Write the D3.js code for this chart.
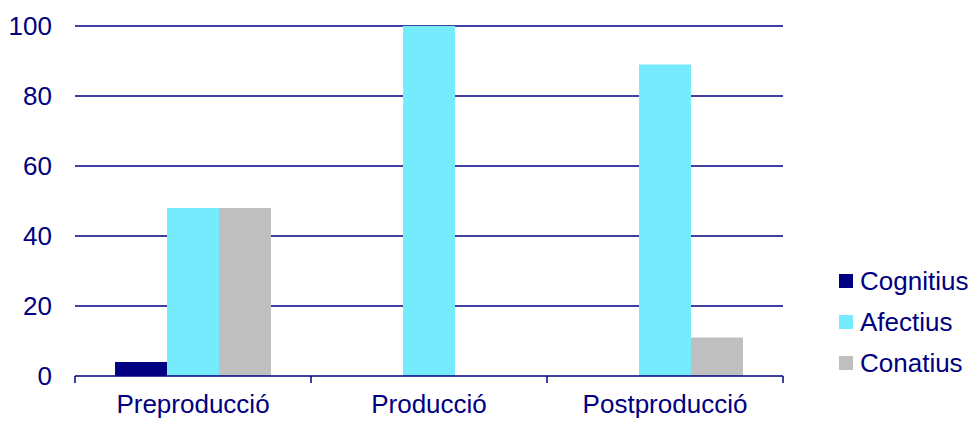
<!DOCTYPE html>
<html>
<head>
<meta charset="utf-8">
<script src="https://cdn.jsdelivr.net/npm/d3@7"></script>
<style>
  body { margin: 0; background: #fff; }
  svg { font-family: "Liberation Sans", Arial, sans-serif; }
</style>
</head>
<body>
<svg id="chart" width="973" height="422"></svg>
<script>
// Chart data
const categories = ['Preproducció', 'Producció', 'Postproducció'];
const seriesNames = ['Cognitius', 'Afectius', 'Conatius'];
const cognitius = [4, 0, 0];
const afectius = [48, 100, 89];
const conatius = [48, 0, 11];
const yTicks = [0, 20, 40, 60, 80, 100];

const seriesValues = [cognitius, afectius, conatius];
const colors = ['#000080', '#76ebfe', '#bfbfbf'];
const navy = '#000080';

const svg = d3.select('#chart');
const margin = { top: 26, right: 190, bottom: 46, left: 75 };
const width = 973 - margin.left - margin.right;
const height = 422 - margin.top - margin.bottom;

const g = svg.append('g')
  .attr('transform', `translate(${margin.left},${margin.top})`);

const x = d3.scaleBand().domain(categories).range([0, width]);
const xInner = d3.scaleBand().domain(seriesNames)
  .range([0, x.bandwidth()]).paddingOuter(0.77).paddingInner(0);
const y = d3.scaleLinear().domain([0, 100]).range([height, 0]);

// Gridlines
g.selectAll('.grid')
  .data(yTicks.filter(d => d > 0))
  .enter().append('line')
  .attr('x1', 0).attr('x2', width)
  .attr('y1', d => y(d)).attr('y2', d => y(d))
  .attr('stroke', navy).attr('stroke-width', 1.5);

// Bars
seriesNames.forEach((name, si) => {
  g.selectAll('.bar-' + si)
    .data(categories.map((c, i) => ({ c, v: seriesValues[si][i] })).filter(d => d.v > 0))
    .enter().append('rect')
    .attr('x', d => x(d.c) + xInner(name))
    .attr('width', xInner.bandwidth())
    .attr('y', d => y(d.v))
    .attr('height', d => height - y(d.v))
    .attr('fill', colors[si]);
});

// X axis
const xAxis = g.append('g')
  .attr('transform', `translate(0,${height})`);
xAxis.append('line')
  .attr('x1', 0).attr('x2', width)
  .attr('stroke', navy).attr('stroke-width', 1.5);
const tickPos = d3.range(categories.length + 1).map(i => i * x.step());
xAxis.selectAll('.xtick')
  .data(tickPos).enter().append('line')
  .attr('x1', d => d).attr('x2', d => d)
  .attr('y1', 0).attr('y2', 7)
  .attr('stroke', navy).attr('stroke-width', 1.5);
xAxis.selectAll('.xlabel')
  .data(categories).enter().append('text')
  .attr('x', d => x(d) + x.bandwidth() / 2)
  .attr('y', 37)
  .attr('text-anchor', 'middle')
  .attr('fill', navy)
  .style('font-size', '26px')
  .text(d => d);

// Y labels
g.selectAll('.ylabel')
  .data(yTicks).enter().append('text')
  .attr('x', -23)
  .attr('y', d => y(d))
  .attr('dy', '0.35em')
  .attr('text-anchor', 'end')
  .attr('fill', navy)
  .style('font-size', '26px')
  .text(d => d);

// Legend
const legend = svg.append('g').attr('transform', 'translate(839,274)');
seriesNames.forEach((name, i) => {
  const row = legend.append('g').attr('transform', `translate(0,${i * 41})`);
  row.append('rect').attr('width', 14).attr('height', 14).attr('fill', colors[i]);
  row.append('text')
    .attr('x', 21).attr('y', 7).attr('dy', '0.35em')
    .attr('fill', navy)
    .style('font-size', '26px')
    .text(name);
});
</script>
</body>
</html>
